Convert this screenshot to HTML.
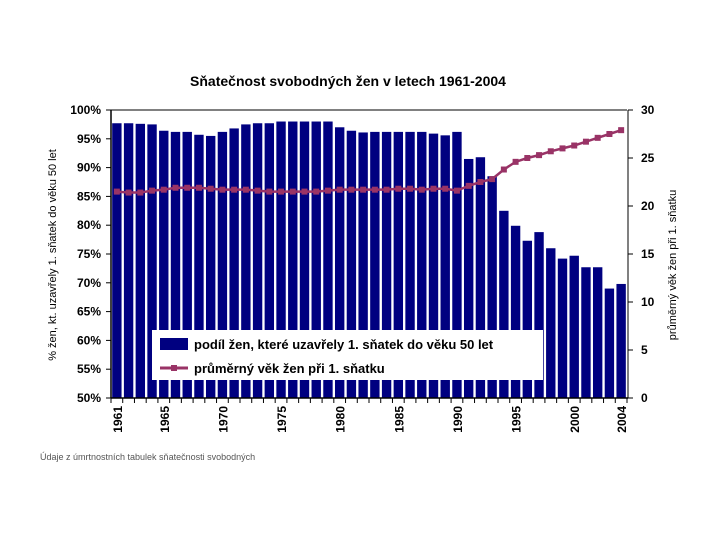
<!DOCTYPE html>
<html><head><meta charset="utf-8"><style>
body{margin:0;background:#fff;width:720px;height:540px;overflow:hidden;font-family:"Liberation Sans",sans-serif}
svg text{font-family:"Liberation Sans",sans-serif}
</style></head><body>
<svg id="chart" width="720" height="540" xmlns="http://www.w3.org/2000/svg">
<text x="348" y="86" font-size="14" font-weight="bold" text-anchor="middle" fill="#000">Sňatečnost svobodných žen v letech 1961-2004</text>
<g id="plot"></g>
<text transform="translate(56,255) rotate(-90)" font-size="11" text-anchor="middle" fill="#000">% žen, kt. uzavřely 1. sňatek do věku 50 let</text>
<text transform="translate(676,265) rotate(-90)" font-size="11" text-anchor="middle" fill="#000">průměrný věk žen při 1. sňatku</text>
<text x="40" y="460" font-size="9" fill="#555">Údaje z úmrtnostních tabulek sňatečnosti svobodných</text>
<g>
<rect x="152" y="330" width="391" height="50" fill="#fff"/>
<rect x="160" y="338" width="28" height="12" fill="#000080"/>
<text x="194" y="349" font-size="13" font-weight="bold">podíl žen, které uzavřely 1. sňatek do věku 50 let</text>
<line x1="160" y1="368" x2="188" y2="368" stroke="#993366" stroke-width="3"/>
<rect x="171" y="365" width="6" height="6" fill="#993366"/>
<text x="194" y="373" font-size="13" font-weight="bold">průměrný věk žen při 1. sňatku</text>
</g>
</svg>
<script>
const years=[1961,1962,1963,1964,1965,1966,1967,1968,1969,1970,1971,1972,1973,1974,1975,1976,1977,1978,1979,1980,1981,1982,1983,1984,1985,1986,1987,1988,1989,1990,1991,1992,1993,1994,1995,1996,1997,1998,1999,2000,2001,2002,2003,2004];
const shareValues=[97.7,97.7,97.6,97.5,96.4,96.2,96.2,95.7,95.5,96.2,96.8,97.5,97.7,97.7,98.0,98.0,98.0,98.0,98.0,97.0,96.4,96.1,96.2,96.2,96.2,96.2,96.2,95.9,95.6,96.2,91.5,91.8,88.5,82.5,79.9,77.3,78.8,76.0,74.2,74.7,72.7,72.7,69.0,69.8];
const ageValues=[21.5,21.4,21.4,21.6,21.7,21.9,21.9,21.9,21.8,21.7,21.7,21.7,21.6,21.5,21.5,21.5,21.5,21.5,21.6,21.7,21.7,21.7,21.7,21.7,21.8,21.8,21.7,21.8,21.8,21.6,22.1,22.5,22.8,23.8,24.6,25.0,25.3,25.7,26.0,26.3,26.7,27.1,27.5,27.9];
const leftTicks=[50,55,60,65,70,75,80,85,90,95,100];
const rightTicks=[0,5,10,15,20,25,30];
const labelYears=[1961,1965,1970,1975,1980,1985,1990,1995,2000,2004];

const NS="http://www.w3.org/2000/svg";
const X0=111,X1=627,Y0=398,Y1=110;
const bw=(X1-X0)/years.length;
const xC=i=>X0+bw*(i+0.5);
const yL=v=>Y0-(v-50)/50*(Y0-Y1);
const yR=v=>Y0-v/30*(Y0-Y1);
const g=document.getElementById('plot');
function mk(t,a){const e=document.createElementNS(NS,t);for(const k in a)e.setAttribute(k,a[k]);g.appendChild(e);return e;}

years.forEach((y,i)=>{
  const b=mk('rect',{x:xC(i)-bw*0.4,y:yL(shareValues[i]),width:bw*0.8,height:Y0-yL(shareValues[i]),fill:'#000080'});
  
  
});
let pts=ageValues.map((v,i)=>xC(i)+','+yR(v)).join(' ');
const pl=mk('polyline',{points:pts,fill:'none',stroke:'#993366','stroke-width':2.5});


ageValues.forEach((v,i)=>{
  const m=mk('rect',{x:xC(i)-3,y:yR(v)-3,width:6,height:6,fill:'#993366'});
  
  
});
mk('line',{x1:X0,y1:Y1,x2:X1,y2:Y1,stroke:'#000'});
const la=mk('line',{x1:X0,y1:Y1,x2:X0,y2:Y0,stroke:'#000','stroke-width':1.5});


const ra=mk('line',{x1:X1+1,y1:Y1,x2:X1+1,y2:Y0,stroke:'#000'});


const xa=mk('line',{x1:X0,y1:Y0,x2:X1+1,y2:Y0,stroke:'#000','stroke-width':1.5});


leftTicks.forEach(v=>{
  mk('line',{x1:X0-5,y1:yL(v),x2:X0,y2:yL(v),stroke:'#000'});
  const t=mk('text',{x:X0-10,y:yL(v)+4,'font-size':12,'font-weight':'bold','text-anchor':'end'});
  t.textContent=v+'%';
  
  
});
rightTicks.forEach(v=>{
  mk('line',{x1:X1+1,y1:yR(v),x2:X1+6,y2:yR(v),stroke:'#000'});
  const t=mk('text',{x:X1+14,y:yR(v)+4,'font-size':12,'font-weight':'bold'});
  t.textContent=v;
  
  
});
for(let i=0;i<=years.length;i++)mk('line',{x1:X0+bw*i,y1:Y0,x2:X0+bw*i,y2:Y0+5,stroke:'#000'});
labelYears.forEach(y=>{
  const i=years.indexOf(y);
  const t=mk('text',{transform:'translate('+(xC(i)+5)+','+(Y0+8)+') rotate(-90)','font-size':12,'font-weight':'bold','text-anchor':'end'});
  t.textContent=y;
  
  
});
</script>
</body></html>
